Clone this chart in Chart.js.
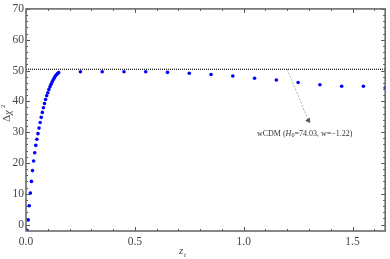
<!DOCTYPE html>
<html>
<head>
<meta charset="utf-8">
<script src="https://cdn.jsdelivr.net/npm/chart.js@4/dist/chart.umd.min.js"></script>
<style>
  body { margin: 0; background: #fff; }
  #wrap { width: 390px; height: 259px; position: relative; }
</style>
</head>
<body>
<div id="wrap"><canvas id="chart"></canvas></div>
<script>
// ================= DATA =================
// dense scan near z_t = 0
const zDense = [0.005, 0.010, 0.015, 0.020, 0.025, 0.030, 0.035, 0.040, 0.045, 0.050,
                0.055, 0.060, 0.065, 0.070, 0.075, 0.080, 0.085, 0.090, 0.095, 0.100,
                0.105, 0.110, 0.115, 0.120, 0.125, 0.130, 0.135, 0.140, 0.145, 0.150];
const chiDense = [-1.9, 1.5, 6.1, 10.2, 14.0, 17.5, 20.6, 23.3, 25.7, 27.7,
                  29.5, 31.3, 33.1, 34.8, 36.4, 37.9, 39.3, 40.6, 41.8, 42.8,
                  43.8, 44.7, 45.5, 46.3, 47.0, 47.6, 48.2, 48.6, 49.0, 49.3];
// coarse scan
const zCoarse = [0.25, 0.35, 0.45, 0.55, 0.65, 0.75, 0.85, 0.95, 1.05, 1.15, 1.25, 1.35, 1.45, 1.55, 1.65];
const chiCoarse = [49.6, 49.6, 49.6, 49.6, 49.4, 49.1, 48.7, 48.2, 47.5, 46.9, 46.1, 45.4, 44.9, 44.9, 44.4];

// wCDM reference level and its label
const wcdmLevel = 50.4;
const arrowFrom = [1.20, 50.4];
const arrowTo = [1.297, 33.8];
const labelAt = [1.28, 29.5];

const xTicks = [0.0, 0.5, 1.0, 1.5];
const yTicks = [0, 10, 20, 30, 40, 50, 60, 70];
const xRange = [0, 1.65];
const yRange = [-2.1, 70];

const SERIF = "'Liberation Serif', 'DejaVu Serif', serif";

// ================= FRAME PLUGIN =================
const framePlugin = {
  id: "frame",
  afterDraw(chart) {
    const ctx = chart.ctx;
    const a = chart.chartArea;
    const xs = chart.scales.x, ys = chart.scales.y;
    ctx.save();

    // inward ticks on all four sides
    ctx.strokeStyle = "#555";
    ctx.lineWidth = 1;
    for (let i = 0; i <= 16; i++) {
      const px = Math.round(xs.getPixelForValue(i / 10)) + 0.5;
      const len = (i % 5 === 0) ? 4 : 2;
      ctx.beginPath();
      ctx.moveTo(px, a.bottom); ctx.lineTo(px, a.bottom - len);
      ctx.moveTo(px, a.top); ctx.lineTo(px, a.top + len);
      ctx.stroke();
    }
    for (let v = 0; v <= 70; v += 2) {
      const py = Math.round(ys.getPixelForValue(v)) + 0.5;
      const len = (v % 10 === 0) ? 4 : 2;
      ctx.beginPath();
      ctx.moveTo(a.left, py); ctx.lineTo(a.left + len, py);
      ctx.moveTo(a.right, py); ctx.lineTo(a.right - len, py);
      ctx.stroke();
    }

    // frame
    ctx.strokeStyle = "#6a6a6a";
    ctx.lineWidth = 1.6;
    ctx.strokeRect(a.left, a.top, a.right - a.left, a.bottom - a.top);

    // annotation text: wCDM (H0=74.03, w=-1.22)
    const tx = xs.getPixelForValue(labelAt[0]);
    const ty = ys.getPixelForValue(labelAt[1]);
    const parts = [
      { t: "wCDM (", f: "8px " + SERIF, dy: 0 },
      { t: "H", f: "italic 8px " + SERIF, dy: 0 },
      { t: "0", f: "6px " + SERIF, dy: 2 },
      { t: "=74.03, w=\u22121.22)", f: "8px " + SERIF, dy: 0 }
    ];
    let w = 0;
    parts.forEach(p => { ctx.font = p.f; w += ctx.measureText(p.t).width; });
    let cx = tx - w / 2;
    ctx.fillStyle = "#333";
    ctx.textBaseline = "middle";
    ctx.textAlign = "left";
    parts.forEach(p => {
      ctx.font = p.f;
      ctx.fillText(p.t, cx, ty + p.dy);
      cx += ctx.measureText(p.t).width;
    });

    // x title: z_t
    ctx.fillStyle = "#444";
    ctx.font = "italic 11px " + SERIF;
    ctx.fillText("z", 179, 251);
    ctx.font = "italic 7px " + SERIF;
    ctx.fillText("t", 184, 255);

    // y title: Δχ²
    ctx.translate(7, 112);
    ctx.rotate(-Math.PI / 2);
    ctx.font = "11px " + SERIF;
    ctx.fillText("\u0394", -10, 0);
    ctx.font = "italic 11px " + SERIF;
    ctx.fillText("\u03c7", -3, 1);
    ctx.font = "7px " + SERIF;
    ctx.fillText("2", 4, -4);
    ctx.restore();
  }
};

// ================= CHART =================
new Chart(document.getElementById("chart"), {
  type: "scatter",
  data: {
    datasets: [
      {
        label: "wCDM level",
        type: "line",
        data: [{ x: xRange[0], y: wcdmLevel }, { x: xRange[1], y: wcdmLevel }],
        borderColor: "#111",
        borderWidth: 1.2,
        borderDash: [1, 1],
        pointRadius: 0
      },
      {
        label: "arrow",
        type: "line",
        data: [{ x: arrowFrom[0], y: arrowFrom[1] }, { x: arrowTo[0], y: arrowTo[1] }],
        borderColor: "#999",
        borderWidth: 0.8,
        borderDash: [2, 1.5],
        pointRadius: [0, 2.6],
        pointStyle: "triangle",
        pointRotation: 147,
        pointBackgroundColor: "#555",
        pointBorderColor: "#555"
      },
      {
        label: "dense",
        data: zDense.map((z, i) => ({ x: z, y: chiDense[i] })),
        backgroundColor: "#0000ff",
        borderWidth: 0,
        pointRadius: 1.8
      },
      {
        label: "coarse",
        data: zCoarse.map((z, i) => ({ x: z, y: chiCoarse[i] })),
        backgroundColor: "#0000ff",
        borderWidth: 0,
        pointRadius: 1.8
      }
    ]
  },
  options: {
    responsive: true,
    maintainAspectRatio: false,
    animation: false,
    devicePixelRatio: 1,
    layout: { padding: { top: 5, right: 1, left: 0, bottom: 0 } },
    plugins: { legend: { display: false }, tooltip: { enabled: false } },
    scales: {
      x: {
        type: "linear",
        min: xRange[0],
        max: xRange[1],
        grid: { display: false, drawTicks: false },
        border: { display: false },
        afterBuildTicks: s => { s.ticks = xTicks.map(v => ({ value: v })); },
        afterFit: s => { s.height = 28; },
        ticks: {
          autoSkip: false,
          maxRotation: 0,
          padding: 4,
          color: "#444",
          font: { family: SERIF, size: 11.5 },
          callback: v => Number(v).toFixed(1)
        }
      },
      y: {
        type: "linear",
        min: yRange[0],
        max: yRange[1],
        grid: { display: false, drawTicks: false },
        border: { display: false },
        afterBuildTicks: s => { s.ticks = yTicks.map(v => ({ value: v })); },
        afterFit: s => { s.width = 26; },
        ticks: {
          autoSkip: false,
          padding: 2,
          color: "#444",
          font: { family: SERIF, size: 11.5 }
        }
      }
    }
  },
  plugins: [framePlugin]
});
</script>
</body>
</html>
